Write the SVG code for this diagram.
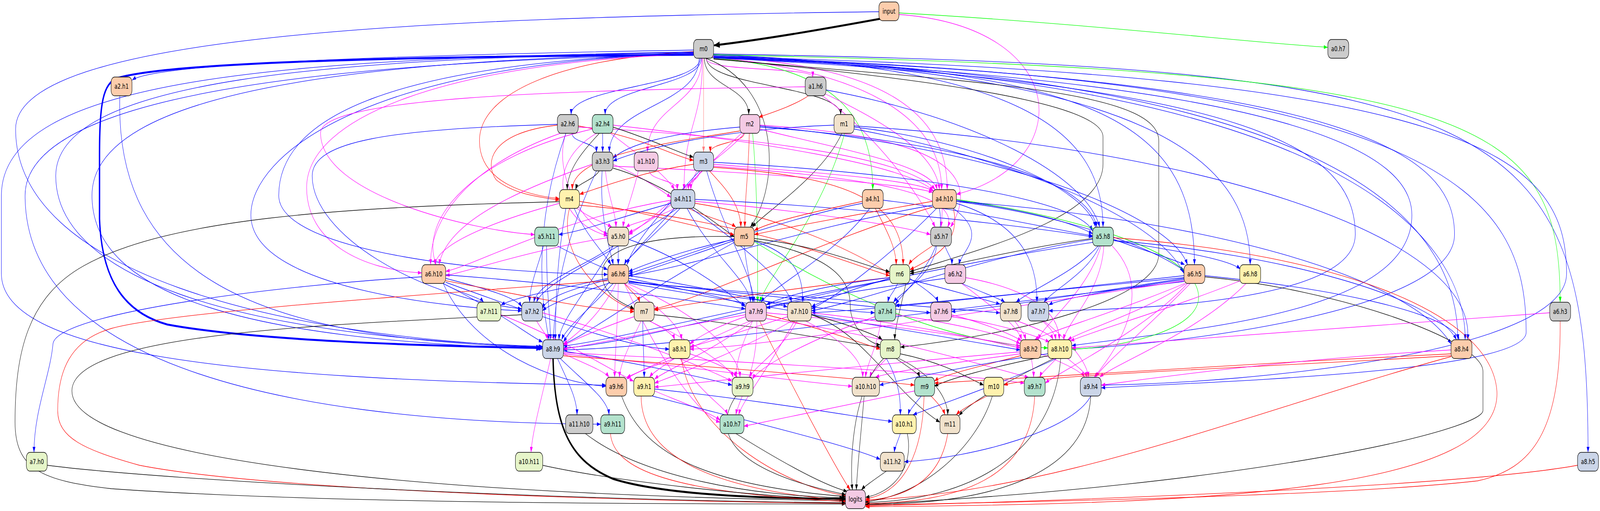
<svg xmlns="http://www.w3.org/2000/svg" width="5740" height="1307" viewBox="0 0 5740 1307">
<defs>
<style>
#edges path{fill:none;stroke-width:1.3}
.b{stroke:#0000ff;marker-end:url(#ab)}
.k{stroke:#000000;marker-end:url(#ak)}
.r{stroke:#ff0000;marker-end:url(#ar)}
.m{stroke:#ff00ff;marker-end:url(#am)}
.g{stroke:#00ff00;marker-end:url(#ag)}
.s{stroke:#ff7f7f;marker-end:url(#as)}
#edges .bw{stroke:#0000ff;stroke-width:5;marker-end:url(#abw)}
#edges .kw{stroke:#000000;stroke-width:5;marker-end:url(#akw)}
.n rect{stroke:#000;stroke-width:1.4}
.n text{font-family:"DejaVu Sans",Verdana,sans-serif;font-size:18px;text-anchor:middle;fill:#000}
</style>
<marker id="ab" markerUnits="userSpaceOnUse" viewBox="0 0 14 10" refX="14" refY="5" markerWidth="14" markerHeight="10" orient="auto"><path d="M0,0 L14,5 L0,10 z" fill="#0000ff"/></marker>
<marker id="ak" markerUnits="userSpaceOnUse" viewBox="0 0 14 10" refX="14" refY="5" markerWidth="14" markerHeight="10" orient="auto"><path d="M0,0 L14,5 L0,10 z" fill="#000000"/></marker>
<marker id="ar" markerUnits="userSpaceOnUse" viewBox="0 0 14 10" refX="14" refY="5" markerWidth="14" markerHeight="10" orient="auto"><path d="M0,0 L14,5 L0,10 z" fill="#ff0000"/></marker>
<marker id="am" markerUnits="userSpaceOnUse" viewBox="0 0 14 10" refX="14" refY="5" markerWidth="14" markerHeight="10" orient="auto"><path d="M0,0 L14,5 L0,10 z" fill="#ff00ff"/></marker>
<marker id="ag" markerUnits="userSpaceOnUse" viewBox="0 0 14 10" refX="14" refY="5" markerWidth="14" markerHeight="10" orient="auto"><path d="M0,0 L14,5 L0,10 z" fill="#00ff00"/></marker>
<marker id="as" markerUnits="userSpaceOnUse" viewBox="0 0 14 10" refX="14" refY="5" markerWidth="14" markerHeight="10" orient="auto"><path d="M0,0 L14,5 L0,10 z" fill="#ff7f7f"/></marker>
<marker id="abw" markerUnits="userSpaceOnUse" viewBox="0 0 22 16" refX="20" refY="8" markerWidth="22" markerHeight="16" orient="auto"><path d="M0,0 L22,8 L0,16 z" fill="#0000ff"/></marker>
<marker id="akw" markerUnits="userSpaceOnUse" viewBox="0 0 22 16" refX="20" refY="8" markerWidth="22" markerHeight="16" orient="auto"><path d="M0,0 L22,8 L0,16 z" fill="#000000"/></marker>
</defs>
<rect x="0" y="0" width="5740" height="1307" fill="#ffffff"/>
<g id="graph" transform="scale(0.7136,1)">
<g id="edges">
<path class="kw" d="M3158,48 C2950,75 2750,100 2562,116"/>
<path class="g" d="M3225,33 C3900,60 4500,110 4763,121"/>
<path class="m" d="M3225,37 C3850,70 3860,420 3431,497"/>
<path class="b" d="M3153,30 C1500,45 56,90 56,330 C56,700 1000,860 1946,888"/>
<path class="k" d="M2527,149 C2527,221 2686,221 2686,293"/>
<path class="k" d="M2534,149 C2534,221 3016,221 3016,293"/>
<path class="s" d="M2524,149 L2524,389"/>
<path class="m" d="M2532,149 C2532,185 2916,170 2916,197"/>
<path class="m" d="M2518,149 C2518,269 2323,269 2323,389"/>
<path class="m" d="M2520,149 C2520,317 2454,317 2454,485"/>
<path class="k" d="M2532,149 C2800,220 2800,470 2692,581"/>
<path class="g" d="M2545,147 C3000,170 3131,300 3131,485"/>
<path class="m" d="M2548,146 C3100,180 3378,300 3378,485"/>
<path class="m" d="M2550,144 C3150,165 3400,280 3398,485"/>
<path class="b" d="M2512,149 C2512,221 2049,221 2049,293"/>
<path class="b" d="M2516,149 C2516,221 2171,221 2171,293"/>
<path class="b" d="M2508,149 C2508,270 2186,270 2186,389"/>
<path class="b" d="M2488,128 C1500,140 560,160 474,205"/>
<path class="bw" d="M2488,140 C1400,145 600,160 420,200 C370,215 357,260 357,400 L357,560 C365,720 450,800 600,830 C900,870 1500,885 1944,890"/>
<path class="b" d="M2560,140 C3700,170 3957,350 3957,581"/>
<path class="b" d="M2560,142 C3900,180 4285,300 4285,677"/>
<path class="b" d="M2560,144 C4100,190 4485,400 4485,677"/>
<path class="b" d="M2560,146 C4600,190 5230,500 5230,869"/>
<path class="b" d="M2560,147 C4800,200 5260,600 5256,869"/>
<path class="b" d="M2560,138 C5400,170 5697,300 5697,1157"/>
<path class="g" d="M2560,140 C5300,180 5597,300 5597,773"/>
<path class="b" d="M2560,145 C5300,190 5620,400 5620,700 C5620,900 4500,980 3951,985"/>
<path class="b" d="M2560,146 C5200,200 5475,500 5475,850 C5475,950 4400,975 3951,992"/>
<path class="b" d="M2560,147 C4900,200 5218,400 5218,600 C5218,800 4200,880 3845,893"/>
<path class="b" d="M2560,148 C4700,210 5065,400 5065,550 C5065,800 4300,840 3845,884"/>
<path class="b" d="M2560,148 C4500,215 4862,380 4862,600 C4862,760 4200,790 3762,795"/>
<path class="k" d="M2560,150 C3300,200 3957,260 3957,350 L3957,420 C3957,560 3500,640 3264,695"/>
<path class="k" d="M2560,151 C3500,210 4157,230 4157,360 L4157,650 C4157,760 3700,850 3230,888"/>
<path class="r" d="M2488,132 C2000,150 1720,240 1720,360 C1720,470 1900,500 2007,508"/>
<path class="m" d="M2488,138 C1600,160 1100,300 1100,480 C1100,620 1300,690 1513,698"/>
<path class="b" d="M2488,136 C1400,160 1000,300 1000,500 C1000,650 1800,700 2180,702"/>
<path class="b" d="M2488,137 C1300,160 900,400 900,550 C900,750 1700,790 1872,795"/>
<path class="b" d="M2488,134 C1200,150 200,200 200,450 C200,700 800,860 1947,886"/>
<path class="b" d="M2488,136 C1300,155 330,230 330,500 C330,760 900,870 1947,892"/>
<path class="b" d="M2488,133 C1000,150 5,200 5,500 L5,700 C5,900 800,970 2174,985"/>
<path class="b" d="M2488,139 C1100,160 90,250 90,500 C90,900 900,1080 2155,1085"/>
<path class="r" d="M2900,245 C2850,270 2760,290 2722,300"/>
<path class="m" d="M2889,222 C2000,230 1150,250 1150,340 C1150,500 1700,590 1918,600"/>
<path class="m" d="M2960,240 C3200,320 3360,400 3370,485"/>
<path class="m" d="M2950,245 C3150,350 3300,500 3355,581"/>
<path class="b" d="M2963,230 C3500,300 3900,450 3945,581"/>
<path class="b" d="M2052,341 C2052,365 2140,365 2140,389"/>
<path class="r" d="M2074,322 C2300,350 2420,400 2488,410"/>
<path class="r" d="M2000,320 C1750,340 1740,420 1780,460 C1850,500 1950,505 2007,512"/>
<path class="m" d="M2030,341 C1980,450 2100,580 2180,598"/>
<path class="m" d="M2010,341 C1700,420 1540,550 1545,677"/>
<path class="b" d="M2030,341 C1900,600 1950,800 1970,869"/>
<path class="m" d="M2074,325 C2700,350 3250,400 3355,485"/>
<path class="b" d="M2000,318 C1400,330 1120,360 1120,450 C1120,600 1500,760 1872,790"/>
<path class="b" d="M2162,341 L2162,389"/>
<path class="k" d="M2150,341 C2100,380 2035,430 2035,485"/>
<path class="k" d="M2199,325 C2350,360 2450,395 2488,402"/>
<path class="m" d="M2190,341 C2300,400 2390,450 2420,485"/>
<path class="m" d="M2140,341 C1950,420 2000,570 2180,603"/>
<path class="m" d="M2125,330 C1700,400 1500,560 1565,677"/>
<path class="m" d="M2199,320 C2700,360 3250,420 3348,488"/>
<path class="b" d="M2654,325 C2400,340 2250,370 2199,405"/>
<path class="r" d="M2670,341 C2670,365 2548,365 2548,389"/>
<path class="r" d="M2654,335 C2350,370 2055,400 2053,485"/>
<path class="m" d="M2670,341 C2600,400 2480,440 2478,485"/>
<path class="m" d="M2725,330 C3000,380 3340,420 3362,485"/>
<path class="m" d="M2660,341 C2500,450 2350,560 2255,600"/>
<path class="r" d="M2688,341 C2685,450 2672,500 2672,581"/>
<path class="m" d="M2725,320 C3400,350 3520,450 3410,581"/>
<path class="b" d="M2725,325 C3400,360 3900,450 3935,581"/>
<path class="b" d="M2725,322 C3600,380 4200,550 4260,677"/>
<path class="g" d="M2700,341 C2720,500 2718,700 2718,773"/>
<path class="b" d="M2992,320 C2600,330 2300,380 2199,412"/>
<path class="k" d="M3020,341 C2950,450 2750,540 2698,581"/>
<path class="b" d="M3064,325 C3500,360 3900,480 3930,581"/>
<path class="b" d="M3064,330 C3600,400 4150,550 4248,700"/>
<path class="b" d="M3064,322 C4300,380 5300,600 5265,869"/>
<path class="g" d="M3030,341 C2950,550 2760,700 2725,773"/>
<path class="k" d="M2150,437 C2130,460 2070,470 2065,485"/>
<path class="m" d="M2199,420 C2300,450 2380,490 2407,505"/>
<path class="m" d="M2199,425 C2700,440 3250,470 3346,492"/>
<path class="m" d="M2172,437 C2180,500 2208,540 2210,581"/>
<path class="k" d="M2199,430 C2400,470 2600,590 2634,605"/>
<path class="m" d="M2125,420 C1800,500 1600,580 1575,677"/>
<path class="b" d="M2160,437 C2150,560 2190,640 2200,677"/>
<path class="b" d="M2140,437 C2000,650 1990,800 1985,869"/>
<path class="m" d="M2330,437 C2330,461 2430,461 2430,485"/>
<path class="m" d="M2290,437 C2270,500 2240,550 2235,581"/>
<path class="r" d="M2488,420 C2300,440 2150,480 2079,497"/>
<path class="m" d="M2510,437 C2510,461 2470,461 2470,485"/>
<path class="m" d="M2560,420 C2900,440 3300,460 3350,490"/>
<path class="m" d="M2500,437 C2450,520 2300,580 2255,595"/>
<path class="r" d="M2545,437 C2600,480 2655,520 2658,581"/>
<path class="m" d="M2560,425 C3000,450 3450,480 3400,581"/>
<path class="b" d="M2560,415 C3200,440 3850,500 3920,590"/>
<path class="r" d="M2560,428 C3000,450 3240,500 3240,677"/>
<path class="b" d="M2510,437 C2400,520 2270,620 2250,677"/>
<path class="b" d="M2535,437 C2600,600 2700,700 2705,773"/>
<path class="m" d="M2070,533 C2120,560 2170,570 2195,581"/>
<path class="r" d="M2079,515 C2300,540 2550,590 2634,600"/>
<path class="m" d="M2007,520 C1800,560 1570,620 1560,677"/>
<path class="b" d="M2060,533 C2100,600 2170,650 2192,677"/>
<path class="r" d="M2079,525 C2700,560 3100,690 3192,705"/>
<path class="r" d="M2043,533 C2000,650 2150,760 2275,793"/>
<path class="b" d="M2030,533 C1990,700 1995,800 1992,869"/>
<path class="k" d="M2007,516 C1200,530 600,560 300,680 C100,760 54,900 54,1080 C54,1200 150,1230 400,1250 C1200,1290 2500,1289 3034,1289"/>
<path class="b" d="M2407,520 C2200,560 2100,590 2004,600"/>
<path class="m" d="M2420,533 C2350,560 2270,570 2245,581"/>
<path class="r" d="M2470,533 C2550,560 2620,570 2640,581"/>
<path class="m" d="M2494,515 C2900,540 3250,580 3338,600"/>
<path class="b" d="M2494,510 C3100,530 3700,580 3920,606"/>
<path class="m" d="M2407,512 C2000,560 1700,680 1599,694"/>
<path class="b" d="M2440,533 C2350,600 2250,660 2240,677"/>
<path class="r" d="M2494,520 C2850,560 3100,660 3192,700"/>
<path class="b" d="M2430,533 C2200,650 1950,720 1925,773"/>
<path class="b" d="M2465,533 C2550,650 2690,720 2692,773"/>
<path class="b" d="M2480,533 C2650,620 2820,720 2840,773"/>
<path class="b" d="M2420,533 C2200,700 2050,840 2021,875"/>
<path class="r" d="M3094,515 C2900,545 2750,570 2706,590"/>
<path class="b" d="M3168,512 C3500,540 3800,590 3920,603"/>
<path class="r" d="M3140,533 C3190,600 3215,640 3215,677"/>
<path class="b" d="M3094,520 C2800,560 2400,670 2255,700"/>
<path class="b" d="M3120,533 C3000,650 2760,740 2730,773"/>
<path class="r" d="M3345,515 C3100,545 2800,585 2706,600"/>
<path class="m" d="M3380,533 C3380,560 3378,560 3376,581"/>
<path class="b" d="M3431,512 C3700,540 3850,570 3920,598"/>
<path class="b" d="M3345,525 C2900,580 2500,680 2255,705"/>
<path class="r" d="M3420,533 C3450,620 3350,660 3264,690"/>
<path class="b" d="M3420,533 C3550,600 3450,640 3440,677"/>
<path class="b" d="M3431,515 C3800,550 4100,620 4248,692"/>
<path class="r" d="M3345,530 C3000,600 2500,770 2347,790"/>
<path class="b" d="M3360,533 C3200,650 3000,760 2911,790"/>
<path class="b" d="M3370,533 C3400,650 3250,740 3212,778"/>
<path class="b" d="M3431,520 C3700,580 3720,700 3720,773"/>
<path class="g" d="M3431,510 C3900,560 4300,650 4300,760 C4300,850 4000,890 3845,893"/>
<path class="b" d="M3431,515 C4300,560 5050,700 5206,880"/>
<path class="b" d="M2000,629 C2080,660 2150,680 2180,690"/>
<path class="b" d="M1950,629 C1930,680 1900,730 1900,773"/>
<path class="b" d="M1961,629 C1960,750 1975,820 1975,869"/>
<path class="b" d="M2218,629 L2218,677"/>
<path class="m" d="M2180,608 C1900,640 1700,690 1599,705"/>
<path class="b" d="M2200,629 C2100,680 1930,720 1915,773"/>
<path class="b" d="M2255,612 C2450,660 2600,740 2674,785"/>
<path class="b" d="M2200,629 C2100,750 2010,820 2005,869"/>
<path class="b" d="M2634,612 C2450,640 2300,680 2255,695"/>
<path class="k" d="M2706,610 C2950,630 3100,680 3192,695"/>
<path class="k" d="M2634,605 C2300,600 2160,640 2160,700 C2160,760 2250,780 2275,790"/>
<path class="b" d="M2634,615 C2300,700 2000,760 1946,795"/>
<path class="b" d="M2670,629 C2680,700 2700,740 2700,773"/>
<path class="b" d="M2700,615 C2850,650 2880,700 2880,773"/>
<path class="k" d="M2706,615 C2950,650 3050,700 3050,780 C3050,840 3120,880 3158,882"/>
<path class="b" d="M2634,620 C2300,750 2100,860 2021,880"/>
<path class="g" d="M2706,618 C3000,750 3400,880 3759,890"/>
<path class="r" d="M3345,629 C3300,650 3270,665 3260,677"/>
<path class="b" d="M3390,629 C3400,650 3415,660 3415,677"/>
<path class="b" d="M3360,629 C3350,700 3230,750 3205,773"/>
<path class="b" d="M3994,612 C4100,640 4200,660 4250,677"/>
<path class="b" d="M3994,615 C4200,640 4400,660 4450,688"/>
<path class="b" d="M3920,612 C3500,660 3100,770 2911,795"/>
<path class="b" d="M3940,629 C3850,700 3700,740 3645,773"/>
<path class="b" d="M3945,629 C3900,700 3780,740 3745,773"/>
<path class="b" d="M3920,620 C3000,720 2300,880 2021,890"/>
<path class="m" d="M3950,629 C3900,750 3740,830 3725,869"/>
<path class="m" d="M3960,629 C3950,750 3830,820 3815,869"/>
<path class="b" d="M3994,615 C4600,650 5150,760 5225,869"/>
<path class="m" d="M3990,629 C4150,750 4000,900 3925,965"/>
<path class="r" d="M3994,608 C4800,650 5350,800 5370,1000 C5390,1250 4400,1290 3105,1296"/>
<path class="k" d="M3920,610 C3700,630 3400,680 3264,700"/>
<path class="b" d="M1590,725 C1650,750 1720,760 1735,773"/>
<path class="b" d="M1599,712 C1750,740 1850,760 1872,785"/>
<path class="b" d="M1590,725 C1800,800 1900,860 1947,875"/>
<path class="b" d="M1599,722 C1900,800 2250,890 2401,893"/>
<path class="b" d="M1590,725 C1700,900 2000,980 2174,988"/>
<path class="b" d="M1513,708 C1000,730 200,800 190,880 C180,960 122,1050 122,1157"/>
<path class="r" d="M1599,718 C1900,760 2150,795 2275,797"/>
<path class="b" d="M1599,703 C2100,730 2500,770 2674,790"/>
<path class="b" d="M2180,712 C2000,740 1850,760 1797,780"/>
<path class="b" d="M2180,715 C2050,740 1960,760 1946,790"/>
<path class="r" d="M2240,725 C2270,750 2290,760 2295,773"/>
<path class="b" d="M2255,712 C2450,740 2600,760 2674,780"/>
<path class="b" d="M2255,705 C2500,730 2750,770 2825,785"/>
<path class="b" d="M2255,718 C2600,760 3000,795 3138,800"/>
<path class="b" d="M2255,720 C2800,760 3200,790 3338,800"/>
<path class="b" d="M2255,722 C2900,760 3400,790 3588,800"/>
<path class="b" d="M2200,725 C2100,800 2030,840 2015,869"/>
<path class="m" d="M2210,725 C2150,810 2060,860 2021,880"/>
<path class="m" d="M2240,725 C2350,780 2440,830 2445,869"/>
<path class="b" d="M2255,724 C2900,800 3500,880 3660,895"/>
<path class="m" d="M2218,725 C2215,850 2205,920 2205,965"/>
<path class="m" d="M2250,725 C2500,800 2650,900 2655,965"/>
<path class="m" d="M2240,725 C2350,900 2500,1060 2583,1080"/>
<path class="r" d="M2180,718 C1400,760 600,800 400,840 C250,870 207,950 207,1050 C207,1120 300,1150 500,1190 C1000,1260 2500,1285 3034,1287"/>
<path class="r" d="M3192,710 C2800,740 2450,780 2347,793"/>
<path class="b" d="M3192,710 C2950,730 2800,760 2749,780"/>
<path class="b" d="M3192,712 C3050,740 2950,770 2911,785"/>
<path class="b" d="M3220,725 C3210,745 3190,755 3185,773"/>
<path class="b" d="M3264,712 C3320,740 3360,760 3365,773"/>
<path class="b" d="M3264,715 C3400,740 3550,770 3588,778"/>
<path class="k" d="M3250,725 C3230,790 3210,840 3210,869"/>
<path class="b" d="M3192,715 C2700,780 2200,870 2021,885"/>
<path class="b" d="M3390,712 C3100,740 2850,770 2749,788"/>
<path class="b" d="M3450,725 C3530,750 3590,765 3605,773"/>
<path class="m" d="M3450,725 C3550,780 3650,830 3665,869"/>
<path class="m" d="M3464,710 C3700,740 3800,800 3800,869"/>
<path class="b" d="M4248,705 C3800,740 3200,790 2911,800"/>
<path class="b" d="M4248,710 C3800,740 3400,770 3212,782"/>
<path class="b" d="M4248,712 C3900,750 3550,790 3413,797"/>
<path class="b" d="M4248,715 C4000,740 3800,765 3762,780"/>
<path class="b" d="M4248,720 C3300,800 2400,890 2021,895"/>
<path class="m" d="M4248,718 C3500,800 2700,890 2475,893"/>
<path class="m" d="M4250,725 C4000,800 3750,850 3712,869"/>
<path class="m" d="M4255,725 C4100,800 3900,840 3830,869"/>
<path class="b" d="M4322,705 C4800,740 5200,800 5235,869"/>
<path class="m" d="M4260,725 C4100,850 3800,950 3750,980"/>
<path class="m" d="M4270,725 C4100,850 3960,930 3930,965"/>
<path class="k" d="M4322,708 C4800,740 5320,870 5320,950 L5320,1050 C5320,1100 4500,1240 3105,1290"/>
<path class="m" d="M4450,718 C4200,790 3950,840 3840,872"/>
<path class="m" d="M4470,725 C4300,850 4000,930 3945,965"/>
<path class="r" d="M5597,821 C5600,1100 5500,1200 5300,1230 C4800,1270 3600,1285 3105,1292"/>
<path class="m" d="M5559,800 C5000,830 4200,870 3845,890"/>
<path class="m" d="M1797,805 C2000,860 2200,950 2273,975"/>
<path class="m" d="M1925,821 C1940,840 1960,855 1965,869"/>
<path class="k" d="M1872,805 C1200,830 258,850 258,1000 C258,1150 1200,1260 3034,1281"/>
<path class="m" d="M1946,800 C2200,850 2500,930 2626,975"/>
<path class="m" d="M2275,810 C2150,840 2060,870 2021,883"/>
<path class="m" d="M2330,821 C2380,840 2415,855 2420,869"/>
<path class="k" d="M2347,805 C2700,830 3050,880 3158,888"/>
<path class="m" d="M2300,821 C2260,880 2225,930 2222,965"/>
<path class="b" d="M2306,821 C2306,880 2311,920 2311,965"/>
<path class="m" d="M2330,821 C2500,880 2620,940 2630,965"/>
<path class="m" d="M2674,805 C2400,840 2100,885 2021,893"/>
<path class="m" d="M2674,810 C2550,840 2490,870 2475,880"/>
<path class="r" d="M2749,805 C2950,840 3100,880 3158,893"/>
<path class="m" d="M2749,800 C3200,830 3550,870 3660,885"/>
<path class="m" d="M2690,821 C2500,880 2300,950 2248,965"/>
<path class="m" d="M2700,821 C2550,900 2380,950 2348,970"/>
<path class="m" d="M2700,821 C2660,880 2640,930 2640,965"/>
<path class="m" d="M2749,815 C3200,860 3600,950 3690,965"/>
<path class="m" d="M2715,821 C2720,950 2650,1020 2640,1061"/>
<path class="r" d="M2725,821 C2850,1000 3000,1200 3050,1253"/>
<path class="m" d="M2825,810 C2650,850 2520,880 2475,887"/>
<path class="k" d="M2911,805 C3050,830 3150,860 3165,869"/>
<path class="m" d="M2911,800 C3300,830 3600,880 3660,890"/>
<path class="m" d="M2840,821 C2650,900 2420,960 2348,980"/>
<path class="m" d="M2860,821 C2800,900 2700,940 2690,965"/>
<path class="m" d="M2890,821 C3050,880 3095,930 3095,965"/>
<path class="m" d="M2850,821 C2750,950 2660,1030 2650,1061"/>
<path class="k" d="M2911,805 C3100,850 3200,1000 3372,1080"/>
<path class="m" d="M3212,805 C3450,830 3620,860 3660,880"/>
<path class="m" d="M3139,810 C2900,870 2720,940 2700,970"/>
<path class="m" d="M3160,821 C3150,880 3110,930 3105,965"/>
<path class="m" d="M3413,805 C3550,830 3640,860 3665,872"/>
<path class="m" d="M3413,810 C3600,830 3720,860 3765,875"/>
<path class="m" d="M3640,821 C3660,840 3675,855 3680,869"/>
<path class="m" d="M3650,821 C3720,840 3770,855 3778,869"/>
<path class="m" d="M3740,821 C3770,840 3785,855 3788,869"/>
<path class="m" d="M3745,821 C3850,880 3900,930 3905,965"/>
<path class="m" d="M2021,905 C2100,930 2170,950 2185,965"/>
<path class="b" d="M2021,898 C2300,930 2550,970 2626,985"/>
<path class="m" d="M2021,905 C2500,940 2900,980 3057,988"/>
<path class="r" d="M2021,910 C2600,940 3100,970 3281,985"/>
<path class="m" d="M2021,902 C2800,930 3500,960 3675,980"/>
<path class="b" d="M2000,917 C2040,980 2070,1020 2070,1061"/>
<path class="b" d="M2010,917 C2100,980 2180,1020 2185,1061"/>
<path class="m" d="M1975,917 C1950,1000 1910,1100 1905,1157"/>
<path class="kw" d="M1984,917 C1990,1100 2050,1180 2200,1225 C2400,1270 2800,1275 3032,1276"/>
<path class="m" d="M2420,917 C2330,940 2270,955 2248,970"/>
<path class="m" d="M2420,917 C2370,940 2340,955 2330,965"/>
<path class="m" d="M2475,905 C2580,930 2630,950 2645,965"/>
<path class="m" d="M2440,917 C2500,1000 2600,1040 2610,1061"/>
<path class="r" d="M2445,917 C2480,1100 2800,1240 3034,1268"/>
<path class="m" d="M3180,917 C3150,940 3125,955 3120,965"/>
<path class="k" d="M3215,917 C3260,940 3295,955 3300,965"/>
<path class="k" d="M3230,905 C3400,930 3480,970 3529,985"/>
<path class="b" d="M3180,917 C3230,980 3230,1030 3230,1061"/>
<path class="k" d="M3225,917 C3350,960 3400,1020 3400,1061"/>
<path class="k" d="M3170,917 C3050,1000 3050,1200 3058,1253"/>
<path class="m" d="M3660,900 C3000,940 2500,980 2348,990"/>
<path class="m" d="M3660,905 C3400,930 3200,950 3140,965"/>
<path class="r" d="M3660,910 C3500,940 3380,960 3352,975"/>
<path class="m" d="M3700,917 C3705,940 3708,950 3708,965"/>
<path class="m" d="M3734,905 C3820,930 3880,950 3890,965"/>
<path class="b" d="M3759,905 C3500,930 3250,970 3155,985"/>
<path class="k" d="M3759,910 C3550,940 3400,970 3352,988"/>
<path class="m" d="M3790,917 C3760,940 3735,955 3730,965"/>
<path class="m" d="M3830,917 C3870,940 3895,955 3900,965"/>
<path class="b" d="M3790,917 C3600,980 3350,1040 3275,1061"/>
<path class="k" d="M3780,917 C3600,980 3480,1030 3440,1063"/>
<path class="k" d="M3805,917 C3780,1150 3500,1280 3105,1285"/>
<path class="r" d="M5206,905 C4500,930 3600,965 3352,980"/>
<path class="r" d="M5206,910 C4500,940 3700,960 3601,985"/>
<path class="m" d="M5206,895 C4600,920 4100,970 3951,985"/>
<path class="r" d="M5206,912 C4500,1050 3800,1260 3105,1279"/>
<path class="k" d="M2230,1013 C2300,1150 2500,1240 3034,1270"/>
<path class="m" d="M2348,1000 C2450,1030 2560,1060 2583,1075"/>
<path class="b" d="M2348,995 C2800,1030 3100,1070 3201,1078"/>
<path class="b" d="M2340,1013 C2700,1080 3050,1140 3158,1175"/>
<path class="r" d="M2300,1013 C2300,1150 2500,1250 3034,1280"/>
<path class="k" d="M2640,1013 C2560,1100 2600,1200 3034,1265"/>
<path class="k" d="M3100,1013 C3090,1100 3075,1200 3072,1253"/>
<path class="m" d="M3281,1000 C3000,1040 2750,1080 2669,1090"/>
<path class="b" d="M3305,1013 C3280,1035 3262,1050 3258,1061"/>
<path class="r" d="M3340,1013 C3370,1035 3385,1050 3390,1061"/>
<path class="r" d="M3315,1013 C3310,1150 3250,1260 3105,1276"/>
<path class="r" d="M3540,1013 C3480,1035 3445,1050 3430,1061"/>
<path class="k" d="M3560,1013 C3500,1150 3300,1270 3105,1283"/>
<path class="r" d="M3712,1013 C3700,1200 3500,1285 3105,1288"/>
<path class="b" d="M3913,1013 C3850,1100 3500,1170 3244,1181"/>
<path class="k" d="M3913,1013 C3900,1200 3600,1290 3105,1290"/>
<path class="k" d="M2100,1109 C2300,1220 2700,1270 3034,1273"/>
<path class="r" d="M2190,1109 C2200,1200 2400,1260 3034,1283"/>
<path class="k" d="M2640,1109 C2800,1180 2950,1240 3040,1257"/>
<path class="b" d="M3230,1109 C3220,1130 3210,1145 3208,1157"/>
<path class="k" d="M3255,1109 C3280,1200 3200,1260 3105,1272"/>
<path class="r" d="M3400,1109 C3380,1200 3300,1270 3105,1280"/>
<path class="k" d="M169,1190 C600,1230 2000,1280 3034,1286"/>
<path class="k" d="M1946,1190 C2200,1230 2700,1270 3034,1278"/>
<path class="k" d="M3180,1205 C3130,1230 3100,1245 3090,1253"/>
<path class="r" d="M5660,1190 C5200,1250 3600,1285 3105,1294"/>
<path class="b" d="M430,245 C410,700 900,870 1947,888"/>
</g>
<g id="nodes">
<g id="input" class="n"><rect x="3153" y="5" width="72" height="48" rx="13" fill="#fdcdac"/><text x="3189" y="35.5">input</text></g>
<g id="m0" class="n"><rect x="2488" y="101" width="72" height="48" rx="13" fill="#cccccc"/><text x="2524" y="131.5">m0</text></g>
<g id="a0.h7" class="n"><rect x="4763.5" y="101" width="75" height="48" rx="13" fill="#cccccc"/><text x="4801" y="131.5">a0.h7</text></g>
<g id="a2.h1" class="n"><rect x="398.5" y="197" width="75" height="48" rx="13" fill="#fdcdac"/><text x="436" y="227.5">a2.h1</text></g>
<g id="a1.h6" class="n"><rect x="2888.5" y="197" width="75" height="48" rx="13" fill="#cccccc"/><text x="2926" y="227.5">a1.h6</text></g>
<g id="a2.h6" class="n"><rect x="1999.5" y="293" width="75" height="48" rx="13" fill="#cccccc"/><text x="2037" y="323.5">a2.h6</text></g>
<g id="a2.h4" class="n"><rect x="2124.5" y="293" width="75" height="48" rx="13" fill="#b3e2cd"/><text x="2162" y="323.5">a2.h4</text></g>
<g id="m2" class="n"><rect x="2654" y="293" width="72" height="48" rx="13" fill="#f4cae4"/><text x="2690" y="323.5">m2</text></g>
<g id="m1" class="n"><rect x="2992" y="293" width="72" height="48" rx="13" fill="#f1e2cc"/><text x="3028" y="323.5">m1</text></g>
<g id="a3.h3" class="n"><rect x="2124.5" y="389" width="75" height="48" rx="13" fill="#cccccc"/><text x="2162" y="419.5">a3.h3</text></g>
<g id="a1.h10" class="n"><rect x="2275" y="389" width="86" height="48" rx="13" fill="#f4cae4"/><text x="2318" y="419.5">a1.h10</text></g>
<g id="m3" class="n"><rect x="2488" y="389" width="72" height="48" rx="13" fill="#cbd5e8"/><text x="2524" y="419.5">m3</text></g>
<g id="m4" class="n"><rect x="2007" y="485" width="72" height="48" rx="13" fill="#fff2ae"/><text x="2043" y="515.5">m4</text></g>
<g id="a4.h11" class="n"><rect x="2407" y="485" width="86" height="48" rx="13" fill="#cbd5e8"/><text x="2450" y="515.5">a4.h11</text></g>
<g id="a4.h1" class="n"><rect x="3093.5" y="485" width="75" height="48" rx="13" fill="#fdcdac"/><text x="3131" y="515.5">a4.h1</text></g>
<g id="a4.h10" class="n"><rect x="3345" y="485" width="86" height="48" rx="13" fill="#fdcdac"/><text x="3388" y="515.5">a4.h10</text></g>
<g id="a5.h11" class="n"><rect x="1918" y="581" width="86" height="48" rx="13" fill="#b3e2cd"/><text x="1961" y="611.5">a5.h11</text></g>
<g id="a5.h0" class="n"><rect x="2180.5" y="581" width="75" height="48" rx="13" fill="#f1e2cc"/><text x="2218" y="611.5">a5.h0</text></g>
<g id="m5" class="n"><rect x="2634" y="581" width="72" height="48" rx="13" fill="#fdcdac"/><text x="2670" y="611.5">m5</text></g>
<g id="a5.h7" class="n"><rect x="3338.5" y="581" width="75" height="48" rx="13" fill="#cccccc"/><text x="3376" y="611.5">a5.h7</text></g>
<g id="a5.h8" class="n"><rect x="3919.5" y="581" width="75" height="48" rx="13" fill="#b3e2cd"/><text x="3957" y="611.5">a5.h8</text></g>
<g id="a6.h10" class="n"><rect x="1513" y="677" width="86" height="48" rx="13" fill="#fdcdac"/><text x="1556" y="707.5">a6.h10</text></g>
<g id="a6.h6" class="n"><rect x="2180.5" y="677" width="75" height="48" rx="13" fill="#fdcdac"/><text x="2218" y="707.5">a6.h6</text></g>
<g id="m6" class="n"><rect x="3192" y="677" width="72" height="48" rx="13" fill="#e6f5c9"/><text x="3228" y="707.5">m6</text></g>
<g id="a6.h2" class="n"><rect x="3389.5" y="677" width="75" height="48" rx="13" fill="#f4cae4"/><text x="3427" y="707.5">a6.h2</text></g>
<g id="a6.h5" class="n"><rect x="4247.5" y="677" width="75" height="48" rx="13" fill="#fdcdac"/><text x="4285" y="707.5">a6.h5</text></g>
<g id="a6.h8" class="n"><rect x="4447.5" y="677" width="75" height="48" rx="13" fill="#fff2ae"/><text x="4485" y="707.5">a6.h8</text></g>
<g id="a7.h11" class="n"><rect x="1711" y="773" width="86" height="48" rx="13" fill="#e6f5c9"/><text x="1754" y="803.5">a7.h11</text></g>
<g id="a7.h2" class="n"><rect x="1871.5" y="773" width="75" height="48" rx="13" fill="#cbd5e8"/><text x="1909" y="803.5">a7.h2</text></g>
<g id="m7" class="n"><rect x="2275" y="773" width="72" height="48" rx="13" fill="#f1e2cc"/><text x="2311" y="803.5">m7</text></g>
<g id="a7.h9" class="n"><rect x="2674.5" y="773" width="75" height="48" rx="13" fill="#f4cae4"/><text x="2712" y="803.5">a7.h9</text></g>
<g id="a7.h10" class="n"><rect x="2825" y="773" width="86" height="48" rx="13" fill="#f1e2cc"/><text x="2868" y="803.5">a7.h10</text></g>
<g id="a7.h4" class="n"><rect x="3138.5" y="773" width="75" height="48" rx="13" fill="#b3e2cd"/><text x="3176" y="803.5">a7.h4</text></g>
<g id="a7.h6" class="n"><rect x="3338.5" y="773" width="75" height="48" rx="13" fill="#f4cae4"/><text x="3376" y="803.5">a7.h6</text></g>
<g id="a7.h8" class="n"><rect x="3588.5" y="773" width="75" height="48" rx="13" fill="#f1e2cc"/><text x="3626" y="803.5">a7.h8</text></g>
<g id="a7.h7" class="n"><rect x="3687.5" y="773" width="75" height="48" rx="13" fill="#cbd5e8"/><text x="3725" y="803.5">a7.h7</text></g>
<g id="a6.h3" class="n"><rect x="5559.5" y="773" width="75" height="48" rx="13" fill="#cccccc"/><text x="5597" y="803.5">a6.h3</text></g>
<g id="a8.h9" class="n"><rect x="1946.5" y="869" width="75" height="48" rx="13" fill="#cbd5e8"/><text x="1984" y="899.5">a8.h9</text></g>
<g id="a8.h1" class="n"><rect x="2400.5" y="869" width="75" height="48" rx="13" fill="#fff2ae"/><text x="2438" y="899.5">a8.h1</text></g>
<g id="m8" class="n"><rect x="3158" y="869" width="72" height="48" rx="13" fill="#e6f5c9"/><text x="3194" y="899.5">m8</text></g>
<g id="a8.h2" class="n"><rect x="3659.5" y="869" width="75" height="48" rx="13" fill="#fdcdac"/><text x="3697" y="899.5">a8.h2</text></g>
<g id="a8.h10" class="n"><rect x="3759" y="869" width="86" height="48" rx="13" fill="#fff2ae"/><text x="3802" y="899.5">a8.h10</text></g>
<g id="a8.h4" class="n"><rect x="5205.5" y="869" width="75" height="48" rx="13" fill="#fdcdac"/><text x="5243" y="899.5">a8.h4</text></g>
<g id="a9.h6" class="n"><rect x="2173.5" y="965" width="75" height="48" rx="13" fill="#fdcdac"/><text x="2211" y="995.5">a9.h6</text></g>
<g id="a9.h1" class="n"><rect x="2273.5" y="965" width="75" height="48" rx="13" fill="#fff2ae"/><text x="2311" y="995.5">a9.h1</text></g>
<g id="a9.h9" class="n"><rect x="2626.5" y="965" width="75" height="48" rx="13" fill="#e6f5c9"/><text x="2664" y="995.5">a9.h9</text></g>
<g id="a10.h10" class="n"><rect x="3057" y="965" width="98" height="48" rx="13" fill="#f1e2cc"/><text x="3106" y="995.5">a10.h10</text></g>
<g id="m9" class="n"><rect x="3281" y="965" width="72" height="48" rx="13" fill="#b3e2cd"/><text x="3317" y="995.5">m9</text></g>
<g id="m10" class="n"><rect x="3529" y="965" width="72" height="48" rx="13" fill="#fff2ae"/><text x="3565" y="995.5">m10</text></g>
<g id="a9.h7" class="n"><rect x="3674.5" y="965" width="75" height="48" rx="13" fill="#b3e2cd"/><text x="3712" y="995.5">a9.h7</text></g>
<g id="a9.h4" class="n"><rect x="3875.5" y="965" width="75" height="48" rx="13" fill="#cbd5e8"/><text x="3913" y="995.5">a9.h4</text></g>
<g id="a11.h10" class="n"><rect x="2029" y="1061" width="98" height="48" rx="13" fill="#cccccc"/><text x="2078" y="1091.5">a11.h10</text></g>
<g id="a9.h11" class="n"><rect x="2155" y="1061" width="86" height="48" rx="13" fill="#b3e2cd"/><text x="2198" y="1091.5">a9.h11</text></g>
<g id="a10.h7" class="n"><rect x="2583" y="1061" width="86" height="48" rx="13" fill="#b3e2cd"/><text x="2626" y="1091.5">a10.h7</text></g>
<g id="a10.h1" class="n"><rect x="3201" y="1061" width="86" height="48" rx="13" fill="#fff2ae"/><text x="3244" y="1091.5">a10.h1</text></g>
<g id="m11" class="n"><rect x="3372" y="1061" width="72" height="48" rx="13" fill="#f1e2cc"/><text x="3408" y="1091.5">m11</text></g>
<g id="a7.h0" class="n"><rect x="94.5" y="1157" width="75" height="48" rx="13" fill="#e6f5c9"/><text x="132" y="1187.5">a7.h0</text></g>
<g id="a10.h11" class="n"><rect x="1849" y="1157" width="98" height="48" rx="13" fill="#e6f5c9"/><text x="1898" y="1187.5">a10.h11</text></g>
<g id="a11.h2" class="n"><rect x="3158" y="1157" width="86" height="48" rx="13" fill="#f1e2cc"/><text x="3201" y="1187.5">a11.h2</text></g>
<g id="a8.h5" class="n"><rect x="5659.5" y="1157" width="75" height="48" rx="13" fill="#cbd5e8"/><text x="5697" y="1187.5">a8.h5</text></g>
<g id="logits" class="n"><rect x="3033" y="1253" width="72" height="48" rx="13" fill="#f4cae4"/><text x="3069" y="1283.5">logits</text></g>
</g>
</g>
</svg>
